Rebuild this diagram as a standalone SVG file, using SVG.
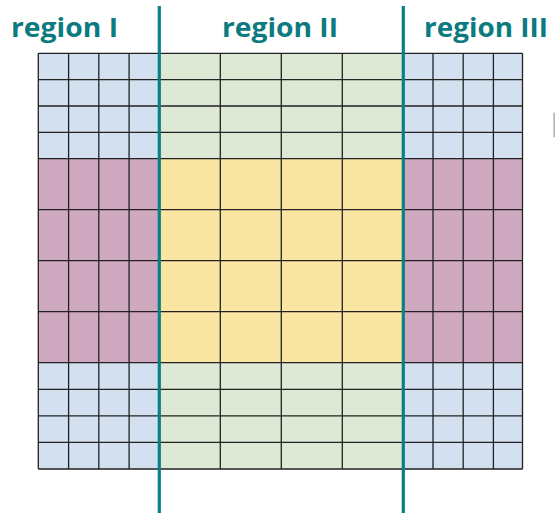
<svg xmlns="http://www.w3.org/2000/svg" width="555" height="513" viewBox="0 0 555 513">
  <style>
    .lbl { font-family: "Open Sans", "Liberation Sans", sans-serif; font-weight: 700; font-size: 27px; fill: #0b7b80; }
    .grid { stroke: #222; stroke-width: 1.3; fill: none; }
    .div { stroke: #0a7f86; stroke-width: 3.2; }
  </style>
  <rect width="555" height="513" fill="#ffffff"/>
  <g id="fills">
    <rect x="38.3" y="53.3" width="121" height="105.4" fill="#d3e0ef"/>
    <rect x="38.3" y="362.7" width="121" height="106.3" fill="#d3e0ef"/>
    <rect x="403.3" y="53.3" width="119.2" height="105.4" fill="#d3e0ef"/>
    <rect x="403.3" y="362.7" width="119.2" height="106.3" fill="#d3e0ef"/>
    <rect x="159.3" y="53.3" width="244" height="105.4" fill="#dde8d5"/>
    <rect x="159.3" y="362.7" width="244" height="106.3" fill="#dde8d5"/>
    <rect x="38.3" y="158.7" width="121" height="204" fill="#cfa9bf"/>
    <rect x="403.3" y="158.7" width="119.2" height="204" fill="#cfa9bf"/>
    <rect x="159.3" y="158.7" width="244" height="204" fill="#fae5a3"/>
  </g>
  <g id="grid" class="grid">
    <path d="M38.3 53.3V469 M68.6 53.3V469 M98.8 53.3V469 M129.1 53.3V469 M220.3 53.3V469 M281.3 53.3V469 M342.3 53.3V469 M433 53.3V469 M463.2 53.3V469 M493.4 53.3V469 M522.5 53.3V469"/>
    <path d="M38.3 53.3H522.5 M38.3 79.6H522.5 M38.3 106H522.5 M38.3 132.3H522.5 M38.3 158.7H522.5 M38.3 209.7H522.5 M38.3 260.7H522.5 M38.3 311.7H522.5 M38.3 362.7H522.5 M38.3 389.3H522.5 M38.3 415.9H522.5 M38.3 442.4H522.5 M38.3 469H522.5"/>
  </g>
  <g id="dividers">
    <line class="div" x1="159.3" y1="6" x2="159.3" y2="513"/>
    <line class="div" x1="403.3" y1="6" x2="403.3" y2="513"/>
  </g>
  <g id="label-region-I"><text class="lbl" x="11" y="37" textLength="107" lengthAdjust="spacingAndGlyphs">region I</text></g>
  <g id="label-region-II"><text class="lbl" x="222" y="37" textLength="116" lengthAdjust="spacingAndGlyphs">region II</text></g>
  <g id="label-region-III"><text class="lbl" x="424" y="37" textLength="124" lengthAdjust="spacingAndGlyphs">region III</text></g>
  <rect x="553.5" y="112.7" width="1.2" height="24.6" fill="#9a9a9a"/>
</svg>
